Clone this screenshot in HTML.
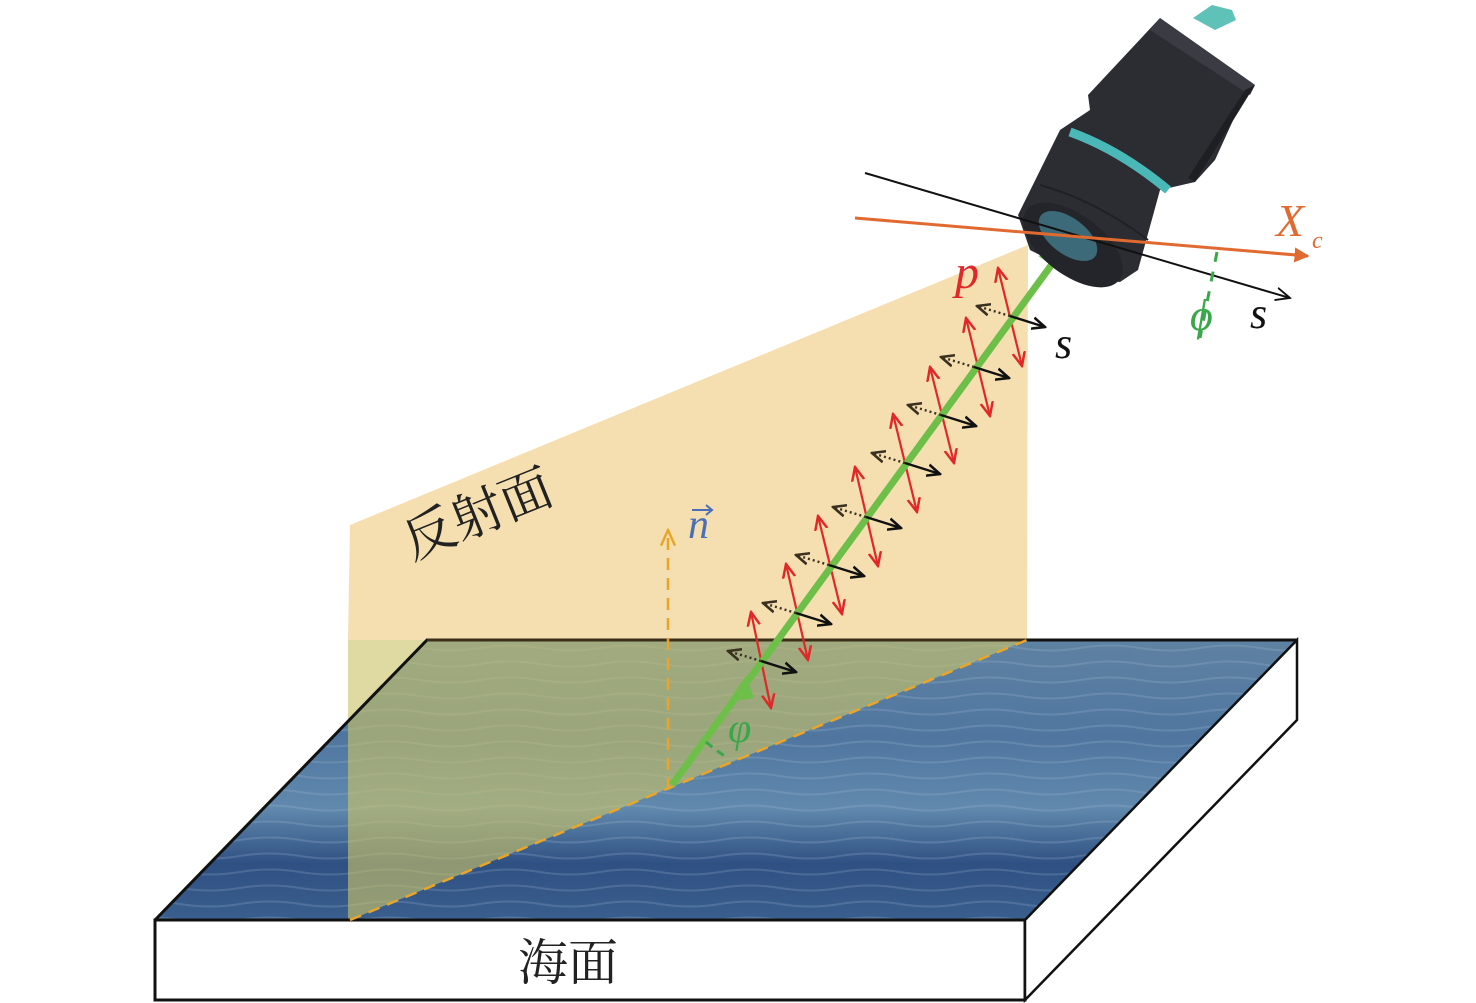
<!DOCTYPE html>
<html><head><meta charset="utf-8"><style>
html,body{margin:0;padding:0;background:#fff;}
svg{display:block;}
</style></head><body>
<svg width="1476" height="1003" viewBox="0 0 1476 1003" xmlns="http://www.w3.org/2000/svg">
<defs>
<linearGradient id="water" x1="0" y1="0" x2="0" y2="1">
<stop offset="0" stop-color="#5f82a2"/>
<stop offset="0.35" stop-color="#5076a0"/>
<stop offset="0.6" stop-color="#6189ad"/>
<stop offset="0.8" stop-color="#2f5083"/>
<stop offset="1" stop-color="#3a5f8e"/>
</linearGradient>
<pattern id="waves" width="120" height="16" patternUnits="userSpaceOnUse">
<path d="M0 8 Q30 3 60 8 T120 8" stroke="#a8c0d4" stroke-width="2" fill="none" opacity="0.22"/>
</pattern>
<marker id="ag" viewBox="0 0 10 10" refX="8" refY="5" markerWidth="4.5" markerHeight="4.5" orient="auto"><path d="M0 0L10 5L0 10z" fill="#6dbf4a"/></marker>
<marker id="ar" viewBox="0 0 10 10" refX="9" refY="5" markerWidth="7" markerHeight="7" orient="auto-start-reverse"><path d="M0 1L9 5L0 9" fill="none" stroke="#e02828" stroke-width="1.6"/></marker>
<marker id="ab" viewBox="0 0 10 10" refX="9" refY="5" markerWidth="6" markerHeight="6" orient="auto"><path d="M0 1L9 5L0 9" fill="none" stroke="#111" stroke-width="1.8"/></marker>
<marker id="ad" viewBox="0 0 10 10" refX="9" refY="5" markerWidth="6" markerHeight="6" orient="auto"><path d="M0 1L9 5L0 9" fill="none" stroke="#3a3020" stroke-width="1.8"/></marker>
<marker id="ao" viewBox="0 0 10 10" refX="9" refY="5" markerWidth="5" markerHeight="5" orient="auto"><path d="M0 0L10 5L0 10z" fill="#e06a30"/></marker>
<marker id="ak" viewBox="0 0 10 10" refX="9" refY="5" markerWidth="8" markerHeight="8" orient="auto"><path d="M0 1L9 5L0 9" fill="none" stroke="#111" stroke-width="1.2"/></marker>
<marker id="ay" viewBox="0 0 10 10" refX="9" refY="5" markerWidth="7" markerHeight="7" orient="auto"><path d="M0 1L9 5L0 9" fill="none" stroke="#e8a52a" stroke-width="1.4"/></marker>
</defs>

<polygon points="350,525 1028,245 1027,640 348,640" fill="#f5dfb0"/>

<polygon points="427,640 1297,640 1025,920 155,920" fill="url(#water)"/>
<polygon points="427,640 1297,640 1025,920 155,920" fill="url(#waves)"/>
<polygon points="348,640 1027,640 350,920 348,920" fill="#c9c468" opacity="0.62"/>
<polyline points="155,920 427,640 1297,640" fill="none" stroke="#111" stroke-width="3"/>
<line x1="427" y1="640" x2="1027" y2="640" stroke="#3b2e1a" stroke-width="3"/>

<rect x="155" y="920" width="870" height="80" fill="#fff" stroke="#111" stroke-width="3"/>
<polygon points="1025,920 1297,640 1297,720 1025,1000" fill="#fff" stroke="#111" stroke-width="2.5"/>
<text x="568" y="980" font-family="'Noto Serif CJK SC','Noto Sans CJK SC',serif" font-size="50" text-anchor="middle" fill="#222">海面</text>

<line x1="350" y1="920" x2="1027" y2="640" stroke="#e8a52a" stroke-width="2.5" stroke-dasharray="12,8"/>
<line x1="668" y1="790" x2="668" y2="530" stroke="#e8a52a" stroke-width="2.5" stroke-dasharray="12,8" marker-end="url(#ay)"/>
<text x="688" y="538" font-family="'Liberation Serif',serif" font-style="italic" font-size="42" fill="#4a6fb8">n</text>
<path d="M692 510 L712 510 M706 505 L712 510 L706 515" stroke="#4a6fb8" stroke-width="2" fill="none"/>

<text transform="translate(412,560) rotate(-22)" font-family="'Noto Serif CJK SC','Noto Sans CJK SC',serif" font-size="52" fill="#222">反射面</text>

<g stroke-width="2.2" fill="none" stroke="#e02828">
<line x1="751" y1="612" x2="771" y2="708" marker-start="url(#ar)" marker-end="url(#ar)"/>
<line x1="786" y1="564" x2="808" y2="660" marker-start="url(#ar)" marker-end="url(#ar)"/>
<line x1="818" y1="516" x2="842" y2="614" marker-start="url(#ar)" marker-end="url(#ar)"/>
<line x1="855" y1="467" x2="878" y2="566" marker-start="url(#ar)" marker-end="url(#ar)"/>
<line x1="893" y1="414" x2="917" y2="512" marker-start="url(#ar)" marker-end="url(#ar)"/>
<line x1="930" y1="367" x2="954" y2="463" marker-start="url(#ar)" marker-end="url(#ar)"/>
<line x1="966" y1="318" x2="990" y2="416" marker-start="url(#ar)" marker-end="url(#ar)"/>
<line x1="998" y1="268" x2="1022" y2="366" marker-start="url(#ar)" marker-end="url(#ar)"/>
</g>

<line x1="672" y1="785" x2="1066" y2="245" stroke="#6dbf4a" stroke-width="7" marker-end="url(#ag)"/>
<polygon points="746,676 728,702 754,698" fill="#6dbf4a"/>
<path d="M706 742 Q718 752 728 758" stroke="#3aa84a" stroke-width="3" stroke-dasharray="8,6" fill="none"/>
<text x="728" y="742" font-family="'Liberation Serif',serif" font-style="italic" font-size="42" fill="#3aa84a">φ</text>

<g stroke-width="2.4" fill="none">
<g stroke="#111">
<line x1="761" y1="661" x2="796" y2="672" marker-end="url(#ab)"/>
<line x1="796" y1="613" x2="831" y2="624" marker-end="url(#ab)"/>
<line x1="829" y1="565" x2="864" y2="576" marker-end="url(#ab)"/>
<line x1="866" y1="517" x2="901" y2="528" marker-end="url(#ab)"/>
<line x1="905" y1="463" x2="940" y2="474" marker-end="url(#ab)"/>
<line x1="941" y1="415" x2="976" y2="426" marker-end="url(#ab)"/>
<line x1="974" y1="367" x2="1009" y2="378" marker-end="url(#ab)"/>
<line x1="1010" y1="316" x2="1045" y2="327" marker-end="url(#ab)"/>
</g>
<g stroke="#3a3020" stroke-dasharray="2,3">
<line x1="761" y1="661" x2="728" y2="651" marker-end="url(#ad)"/>
<line x1="796" y1="613" x2="763" y2="603" marker-end="url(#ad)"/>
<line x1="829" y1="565" x2="796" y2="555" marker-end="url(#ad)"/>
<line x1="866" y1="517" x2="833" y2="507" marker-end="url(#ad)"/>
<line x1="905" y1="463" x2="872" y2="453" marker-end="url(#ad)"/>
<line x1="941" y1="415" x2="908" y2="405" marker-end="url(#ad)"/>
<line x1="974" y1="367" x2="941" y2="357" marker-end="url(#ad)"/>
<line x1="1010" y1="316" x2="977" y2="306" marker-end="url(#ad)"/>
</g>
</g>

<!-- camera -->
<g>
<polygon points="1088,95 1160,18 1255,85 1240,105 1215,160 1195,182 1160,190 1138,270 1120,282 1085,278 1030,250 1018,215 1060,130 1090,110" fill="#2c2d33"/>
<polygon points="1160,18 1255,85 1250,95 1150,30" fill="#3b3c43"/>
<polygon points="1255,85 1195,182 1188,178 1245,90" fill="#1e1f23"/>
<polygon points="1193,18 1212,5 1232,10 1236,20 1215,30" fill="#5fc2b8"/>
<path d="M1070 132 Q1120 150 1168 190" stroke="#4bb8b8" stroke-width="9" fill="none"/>
<path d="M1040 185 Q1095 200 1148 240" stroke="#202126" stroke-width="2" fill="none"/>
<ellipse cx="1073" cy="245" rx="58" ry="30" transform="rotate(37 1073 245)" fill="#24252a"/>
<ellipse cx="1068" cy="236" rx="34" ry="18" transform="rotate(37 1068 236)" fill="#3d6a78"/>
</g>

<line x1="865" y1="173" x2="1290" y2="298" stroke="#111" stroke-width="2" marker-end="url(#ak)"/>
<line x1="855" y1="218" x2="1308" y2="256" stroke="#e06a30" stroke-width="3" marker-end="url(#ao)"/>
<text x="1276" y="236" font-family="'Liberation Serif',serif" font-style="italic" font-size="46" fill="#e06a30">X</text>
<text x="1312" y="248" font-family="'Liberation Serif',serif" font-style="italic" font-size="24" fill="#e06a30">c</text>
<line x1="1217" y1="252" x2="1200" y2="338" stroke="#3aa84a" stroke-width="3" stroke-dasharray="10,10"/>
<text x="1190" y="330" font-family="'Liberation Serif',serif" font-style="italic" font-size="44" fill="#3aa84a">ϕ</text>
<text x="1250" y="328" font-family="'Liberation Serif',serif" font-style="italic" font-size="44" fill="#111">s</text>
<text x="1055" y="358" font-family="'Liberation Serif',serif" font-style="italic" font-size="44" fill="#111">s</text>
<text x="955" y="288" font-family="'Liberation Serif',serif" font-style="italic" font-size="48" fill="#e02828">p</text>
</svg>
</body></html>
